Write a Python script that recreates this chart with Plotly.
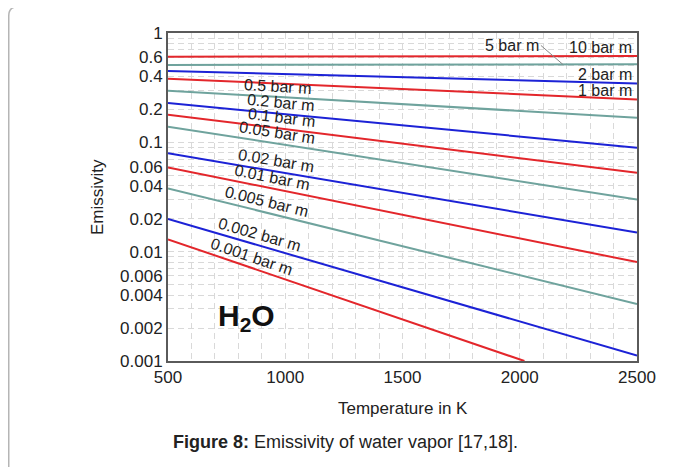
import math
import plotly.graph_objects as go

# ---------------- data ----------------
pl_labels = ["10 bar m", "5 bar m", "2 bar m", "1 bar m", "0.5 bar m", "0.2 bar m",
             "0.1 bar m", "0.05 bar m", "0.02 bar m", "0.01 bar m", "0.005 bar m",
             "0.002 bar m", "0.001 bar m"]
t_start = [500] * 13
t_end = [2500] * 12 + [2020]
eps_start = [0.607, 0.510, 0.449, 0.382, 0.297, 0.229, 0.179, 0.139, 0.0793,
             0.059, 0.0379, 0.0199, 0.01296]
eps_end = [0.616, 0.517, 0.346, 0.247, 0.168, 0.0893, 0.0527, 0.030, 0.0150,
           0.00803, 0.00332, 0.00112, 0.001]
colors = ["#e3262b", "#6fa39d", "#1c22d6"] * 5

y_tickvals = [0.001, 0.002, 0.004, 0.006, 0.01, 0.02, 0.04, 0.06, 0.1, 0.2, 0.4, 0.6, 1]
y_ticktext = ["0.001", "0.002", "0.004", "0.006", "0.01", "0.02", "0.04", "0.06",
              "0.1", "0.2", "0.4", "0.6", "1"]
y_minor = [m * 10 ** e for e in (-3, -2, -1) for m in range(1, 10)] + [1]

# ---------------- layout geometry ----------------
# the page adds an 8px body margin, so the figure is drawn 8px smaller/offset
OFF = 8
W, H = 678 - OFF, 467 - OFF
L, R, T = 168 - OFF, 41, 33 - OFF
pw, ph = 469, 328
B = H - T - ph
x_range = [500, 2500]
y_range = [-3, 0]
px_per_K = pw / (x_range[1] - x_range[0])
px_per_dec = ph / (y_range[1] - y_range[0])

def px_x(X):   # reference-image pixel -> paper x
    return (X - 168) / pw

def px_y(Y):   # reference-image pixel -> paper y
    return (361 - Y) / ph

FONT = "Liberation Sans, Arial, sans-serif"
TXT = "#222222"

fig = go.Figure()
for i in range(len(pl_labels)):
    fig.add_trace(go.Scatter(
        x=[t_start[i], t_end[i]], y=[eps_start[i], eps_end[i]],
        mode="lines", line=dict(color=colors[i], width=2),
        name=pl_labels[i], showlegend=False, hoverinfo="skip"))

def on_line(i, t):
    l0, l1 = math.log10(eps_start[i]), math.log10(eps_end[i])
    f = (t - t_start[i]) / (t_end[i] - t_start[i])
    return l0 + f * (l1 - l0)

def angle(i):
    dy = (math.log10(eps_start[i]) - math.log10(eps_end[i])) * px_per_dec
    dx = (t_end[i] - t_start[i]) * px_per_K
    return math.degrees(math.atan2(dy, dx))

annotations = []
label_T = {4: 970, 5: 980, 6: 985, 7: 965, 8: 960, 9: 945, 10: 920, 11: 890, 12: 855}
for i, t in label_T.items():
    annotations.append(dict(
        x=t, y=on_line(i, t), xref="x", yref="y", text=pl_labels[i],
        showarrow=False, textangle=angle(i), yshift=11,
        font=dict(family=FONT, size=16, color=TXT)))

for i in (0, 2, 3):
    annotations.append(dict(
        x=2488, y=on_line(i, 2488), xref="x", yref="y", text=pl_labels[i],
        showarrow=False, xanchor="right", yanchor="bottom", yshift=-2,
        font=dict(family=FONT, size=16, color=TXT)))

annotations.append(dict(
    x=2184, y=on_line(1, 2184), xref="x", yref="y", text=pl_labels[1],
    showarrow=True, arrowhead=0, arrowwidth=1, arrowcolor="#888888",
    ax=-22, ay=-19, xanchor="right", yanchor="middle", standoff=0,
    font=dict(family=FONT, size=16, color=TXT)))

annotations.append(dict(
    x=px_x(216), y=px_y(317), xref="paper", yref="paper",
    xanchor="left", yanchor="middle",
    text="<b>H<sub>2</sub>O</b>", showarrow=False,
    font=dict(family=FONT, size=30, color="#111111")))

annotations.append(dict(
    x=px_x(97), y=0.5, xref="paper", yref="paper", text="Emissivity",
    xanchor="center", yanchor="middle",
    textangle=-90, showarrow=False, font=dict(family=FONT, size=17, color=TXT)))
annotations.append(dict(
    x=0.5, y=px_y(409), xref="paper", yref="paper", text="Temperature in K",
    xanchor="center", yanchor="middle",
    showarrow=False, font=dict(family=FONT, size=17, color=TXT)))
annotations.append(dict(
    x=px_x(345), y=px_y(442), xref="paper", yref="paper",
    xanchor="center", yanchor="middle",
    text="<b>Figure 8:</b> Emissivity of water vapor [17,18].",
    showarrow=False, font=dict(family=FONT, size=18, color=TXT)))

# outer rounded frame (left + top edges)
x0 = px_x(8.75)
ytop = px_y(6.75)
ybot = px_y(480)
rx, ry = 9 / pw, 9 / ph
xend = px_x(700)
frame = dict(type="path", xref="paper", yref="paper",
             path=f"M {x0},{ybot} L {x0},{ytop - ry} Q {x0},{ytop} {x0 + rx},{ytop} L {xend},{ytop}",
             line=dict(color="#b5b5b5", width=1.5), layer="below")

grid = dict(gridcolor="#d9d9d9", griddash="6px,4px", gridwidth=1)
fig.update_layout(
    width=W, height=H, margin=dict(l=L, r=R, t=T, b=B, autoexpand=False),
    paper_bgcolor="white", plot_bgcolor="white", template="none",
    annotations=annotations, shapes=[frame], showlegend=False,
    xaxis=dict(range=x_range, tickvals=[500, 1000, 1500, 2000, 2500],
               showgrid=True, **grid, zeroline=False,
               minor=dict(dtick=100, showgrid=True, **grid),
               showline=True, linecolor="#5a5a5a", linewidth=2, mirror=True,
               ticks="", tickfont=dict(family=FONT, size=17, color=TXT)),
    yaxis=dict(type="log", range=y_range, tickmode="array", tickvals=y_tickvals,
               ticktext=y_ticktext, showgrid=True, **grid, zeroline=False,
               minor=dict(tickmode="array", tickvals=y_minor, showgrid=True, **grid),
               showline=True, linecolor="#5a5a5a", linewidth=2, mirror=True,
               ticks="", tickfont=dict(family=FONT, size=17, color=TXT)),
)

fig.write_html("out.html")
